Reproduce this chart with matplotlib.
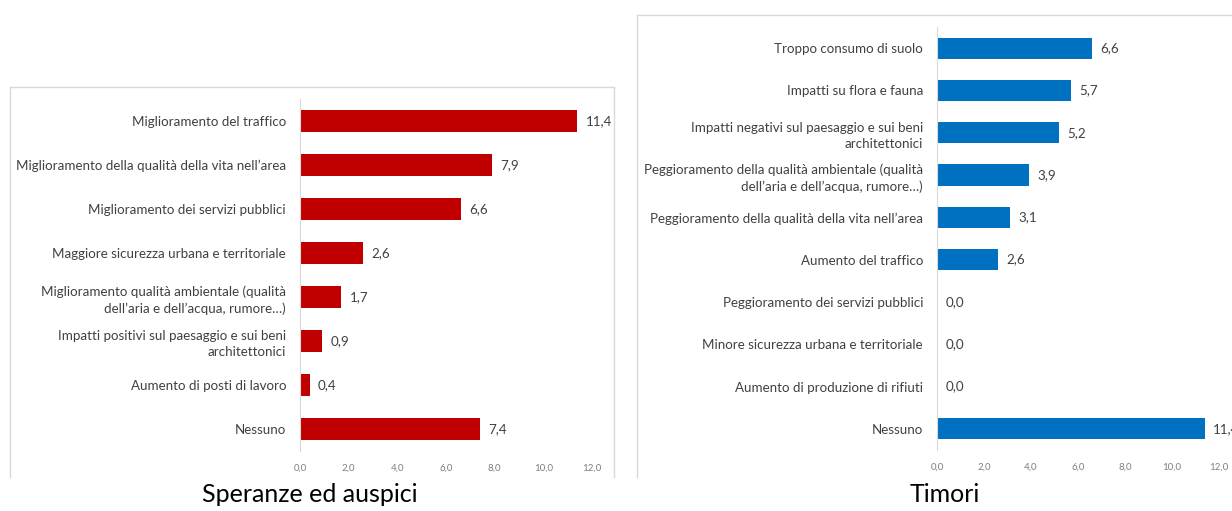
import matplotlib.pyplot as plt
from matplotlib.lines import Line2D

# Survey results (% of respondents)
hopes_labels = [
    "Miglioramento del traffico",
    "Miglioramento della qualità della vita nell’area",
    "Miglioramento dei servizi pubblici",
    "Maggiore sicurezza urbana e territoriale",
    "Miglioramento qualità ambientale (qualità\ndell’aria e dell’acqua, rumore…)",
    "Impatti positivi sul paesaggio e sui beni\narchitettonici",
    "Aumento di posti di lavoro",
    "Nessuno",
]
hopes_values = [11.4, 7.9, 6.6, 2.6, 1.7, 0.9, 0.4, 7.4]

fears_labels = [
    "Troppo consumo di suolo",
    "Impatti su flora e fauna",
    "Impatti negativi sul paesaggio e sui beni\narchitettonici",
    "Peggioramento della qualità ambientale (qualità\ndell’aria e dell’acqua, rumore…)",
    "Peggioramento della qualità della vita nell’area",
    "Aumento del traffico",
    "Peggioramento dei servizi pubblici",
    "Minore sicurezza urbana e territoriale",
    "Aumento di produzione di rifiuti",
    "Nessuno",
]
fears_values = [6.6, 5.7, 5.2, 3.9, 3.1, 2.6, 0.0, 0.0, 0.0, 11.4]

x_ticks = [0, 2, 4, 6, 8, 10, 12]

plt.rcParams["font.family"] = ["Lato", "DejaVu Sans"]

W, H = 1232, 511
fig = plt.figure(figsize=(W / 100, H / 100), dpi=100)


def px_axes(x0, y0, x1, y1):
    """Axes placed by pixel box (top-left origin)."""
    return fig.add_axes([x0 / W, 1 - y1 / H, (x1 - x0) / W, (y1 - y0) / H])


def frame(x0, y0, x1, y1, sides):
    c = "#D9D9D9"
    pts = {
        "left": ([x0, x0], [y0, y1]),
        "top": ([x0, x1], [y0, y0]),
        "right": ([x1, x1], [y0, y1]),
    }
    for s in sides:
        xs, ys = pts[s]
        fig.add_artist(Line2D([v / W for v in xs], [1 - v / H for v in ys],
                              transform=fig.transFigure, color=c, lw=1))


def draw_bars(ax, labels, values, color):
    n = len(labels)
    pos = list(range(n))
    ax.barh(pos, values, height=0.5, color=color)
    ax.set_ylim(n - 0.5, -0.5)
    ax.set_xlim(0, 12)
    ax.set_yticks(pos)
    ax.set_yticklabels(labels, fontsize=9.6, color="#404040", linespacing=1.4)
    ax.set_xticks(x_ticks)
    ax.set_xticklabels([f"{t:.1f}".replace(".", ",") for t in x_ticks],
                       fontsize=7, color="#7F7F7F")
    ax.tick_params(axis="both", length=0)
    ax.tick_params(axis="y", pad=10)
    ax.tick_params(axis="x", pad=9)
    for s in ["top", "right", "bottom"]:
        ax.spines[s].set_visible(False)
    ax.spines["left"].set_color("#D9D9D9")
    for p, v in zip(pos, values):
        ax.annotate(f"{v:.1f}".replace(".", ","), (v, p), xytext=(6, 0),
                    textcoords="offset points", va="center", ha="left",
                    fontsize=9.6, color="#404040")


frame(10, 87, 614, 477, ["left", "top", "right"])
frame(637, 15, 1240, 477, ["left", "top"])

ax1 = px_axes(300, 99, 592, 451)
draw_bars(ax1, hopes_labels, hopes_values, "#C00000")

ax2 = px_axes(937, 27, 1219, 450)
draw_bars(ax2, fears_labels, fears_values, "#0070C0")

fig.text(310 / W, 1 - 494 / H, "Speranze ed auspici", ha="center", va="center",
         fontsize=18, color="#000000")
fig.text(945 / W, 1 - 494 / H, "Timori", ha="center", va="center",
         fontsize=18, color="#000000")

fig.savefig("out.png", dpi=100, facecolor="white")
